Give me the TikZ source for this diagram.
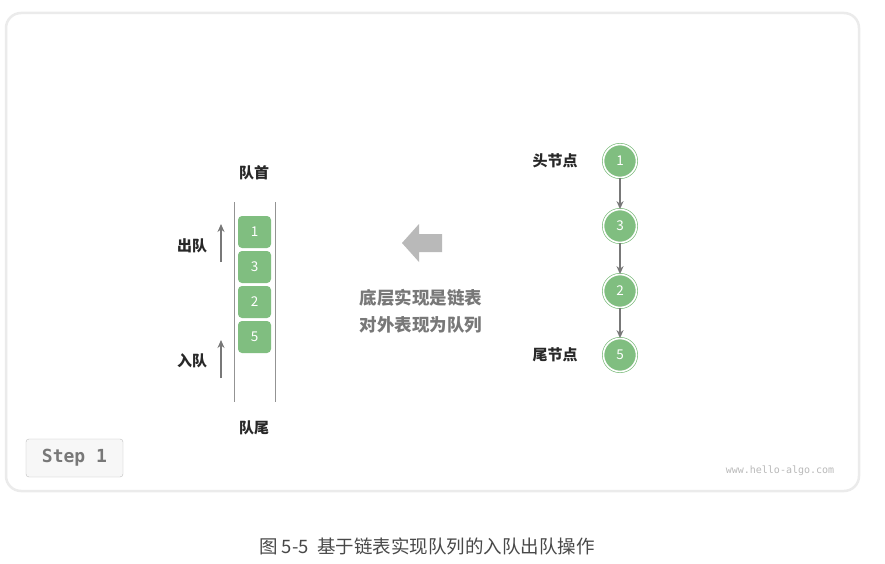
\documentclass[tikz,border=0pt]{standalone}
\usepackage{fontspec}
\usepackage{tikz}
\usepackage{xcolor}
\usetikzlibrary{arrows.meta}

\newfontfamily\cjk{Noto Sans CJK SC}
\newfontfamily\mono{DejaVu Sans Mono}

\definecolor{verde}{RGB}{128,190,128}
\definecolor{cinza}{RGB}{120,120,120}
\definecolor{cinzaclaro}{RGB}{185,185,185}
\definecolor{texto}{RGB}{40,40,40}

\tikzset{
  caixa/.style={fill=verde, rounded corners=4pt, minimum width=33pt, minimum height=32pt, inner sep=0pt, text=white, font=\cjk\fontsize{13.5}{13.5}\selectfont},
  no/.style={circle, fill=verde, draw=verde, double=white, double distance=1.6pt, line width=0.7pt, minimum size=33pt, inner sep=0pt, text=white, font=\cjk\fontsize{13.5}{13.5}\selectfont},
  rotulo/.style={text=texto, font=\cjk\bfseries\fontsize{15}{15}\selectfont},
  seta/.style={cinza, line width=1.5pt, -{Stealth[length=8pt,width=7pt]}},
  parede/.style={cinza!80, line width=0.9pt}
}

\begin{document}
\begin{tikzpicture}[x=1pt,y=-1pt] %coordenadas em pixels da imagem

\useasboundingbox (0,0) rectangle (885,564);

%----------------------------------------------------
%Desenhar o quadro de fundo
%----------------------------------------------------
\draw[rounded corners=15pt, draw=black!8, line width=2.5pt, fill=white] (6,13) rectangle (859,491); %quadro com sombra clara

%----------------------------------------------------
%Desenhar a fila (lado esquerdo)
%----------------------------------------------------
\coordinate (paredeE1) at (234,202); %parede esquerda da fila
\coordinate (paredeE2) at (234,402);
\coordinate (paredeD1) at (275,202); %parede direita da fila
\coordinate (paredeD2) at (275,402);
\draw[parede] (paredeE1)--(paredeE2);
\draw[parede] (paredeD1)--(paredeD2);

\node[caixa] (Q1) at (254.5,232) {1}; %elementos da fila, de cima para baixo
\node[caixa] (Q3) at (254.5,267) {3};
\node[caixa] (Q2) at (254.5,302) {2};
\node[caixa] (Q5) at (254.5,337) {5};

\node[rotulo] (cabeca) at (254,173) {队首}; %topo da fila
\node[rotulo] (cauda) at (254,428) {队尾}; %fundo da fila

%saida da fila
\node[rotulo] (sai) at (192,246) {出队};
\coordinate (sai1) at (221,262);
\coordinate (sai2) at (221,224);
\draw[seta] (sai1)--(sai2);

%entrada da fila
\node[rotulo] (entra) at (192,361) {入队};
\coordinate (entra1) at (221,378);
\coordinate (entra2) at (221,340);
\draw[seta] (entra1)--(entra2);

%----------------------------------------------------
%Desenhar a seta grande e o texto do meio
%----------------------------------------------------
\fill[cinzaclaro] (402,243)--(419,224)--(419,234)--(442,234)--(442,252)--(419,252)--(419,262)--cycle; %seta cinza apontando para a fila

\node[text=cinza, font=\cjk\bfseries\fontsize{17.5}{17.5}\selectfont] (linha1) at (421,298) {底层实现是链表};
\node[text=cinza, font=\cjk\bfseries\fontsize{17.5}{17.5}\selectfont] (linha2) at (421,325) {对外表现为队列};

%----------------------------------------------------
%Desenhar a lista encadeada (lado direito)
%----------------------------------------------------
\node[no] (N1) at (620,161) {1}; %nos da lista
\node[no] (N3) at (620,226) {3};
\node[no] (N2) at (620,291) {2};
\node[no] (N5) at (620,355) {5};

\draw[seta] (N1)--(N3); %ligacoes entre os nos
\draw[seta] (N3)--(N2);
\draw[seta] (N2)--(N5);

\node[rotulo] (head) at (555,161) {头节点};
\node[rotulo] (tail) at (555,355) {尾节点};

%----------------------------------------------------
%Desenhar o botao de passo, o site e a legenda
%----------------------------------------------------
\node[draw=black!25, fill=black!3, rounded corners=3pt, minimum width=97pt, minimum height=38pt, text=cinza, font=\mono\bfseries\fontsize{18}{18}\selectfont] (passo) at (74.5,458) {Step 1};
\node[text=cinzaclaro, font=\mono\fontsize{10}{10}\selectfont] (site) at (780,471) {www.hello-algo.com};
\node[text=texto!85, font=\cjk\fontsize{18.5}{18.5}\selectfont] (legenda) at (427,546) {图 5-5\ \ 基于链表实现队列的入队出队操作};

\end{tikzpicture}
\end{document}
